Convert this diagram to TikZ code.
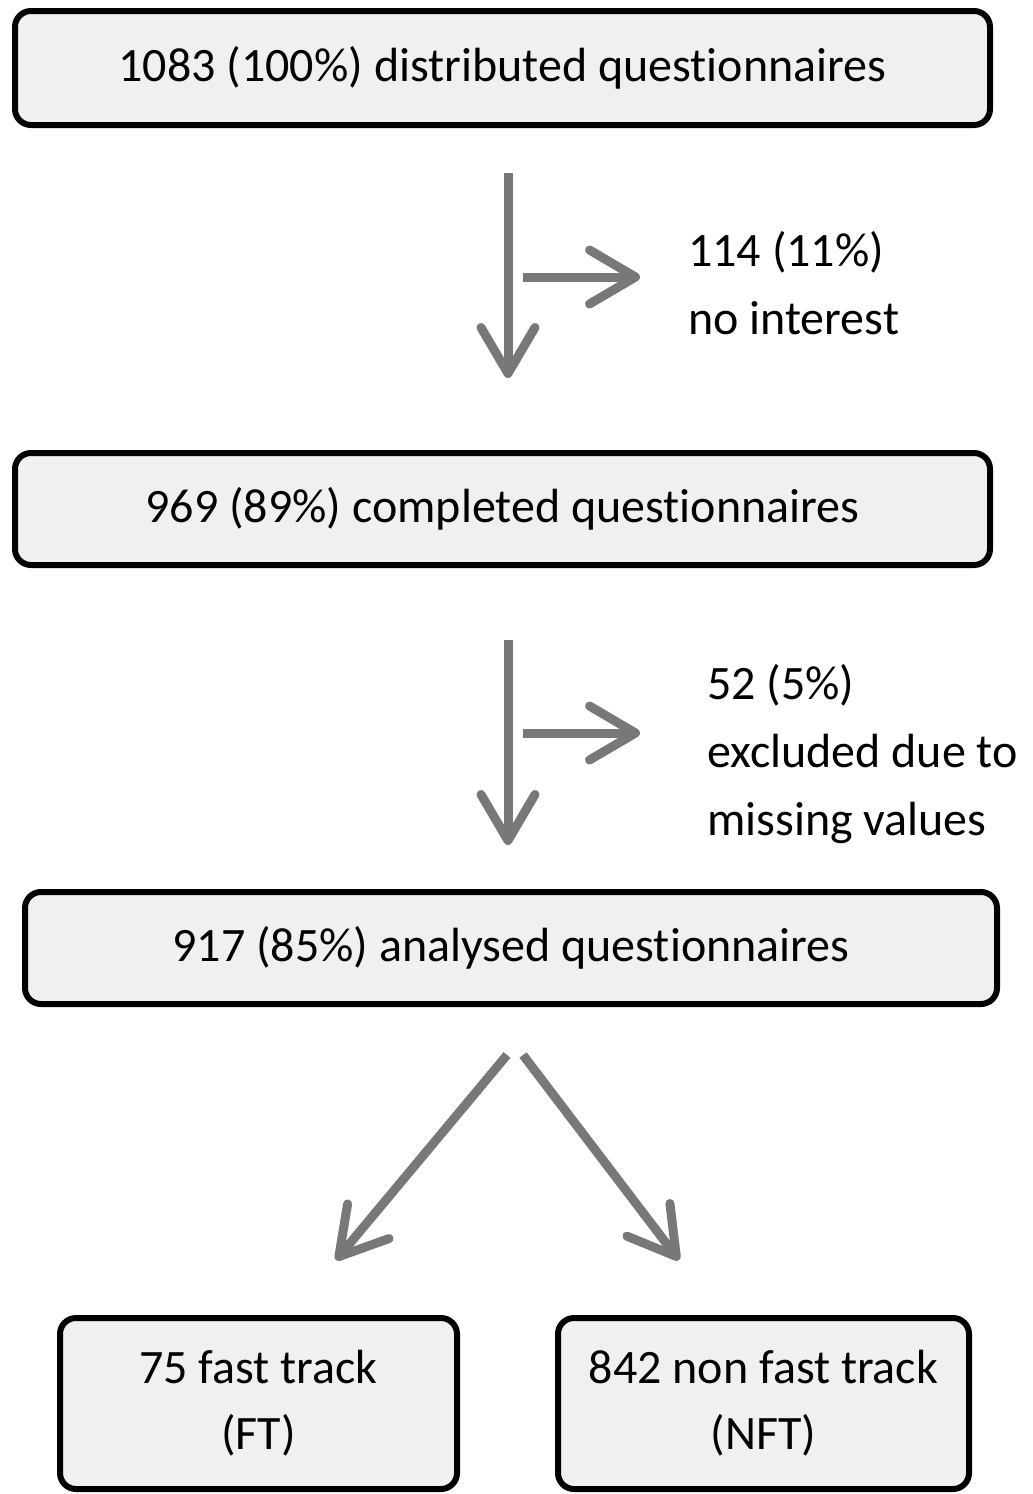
\documentclass[tikz,border=0pt]{standalone}
\usepackage{fontspec}
\setmainfont{Carlito}[Ligatures=NoCommon]
\usetikzlibrary{arrows.meta}
\definecolor{boxfill}{HTML}{F0F0F0}
\definecolor{flowgray}{HTML}{787878}
\tikzset{
  qbox/.style={draw=black, line width=6pt, rounded corners=16pt, fill=boxfill,
    inner sep=0pt, align=center, font=\fontsize{48}{66}\selectfont},
  flow/.style={draw=flowgray, line width=9pt,
    -{Straight Barb[round, length=46pt, width=54pt]}},
  note/.style={anchor=west, align=left, inner sep=0pt, font=\fontsize{48}{68}\selectfont},
}
\begin{document}
\begin{tikzpicture}[x=1pt, y=-1pt]
  \useasboundingbox (0,0) rectangle (1033,1494);
  % caixas principais
  \node[qbox, minimum width=975pt, minimum height=114pt] (dist) at (502.5,68) {1083 (100\%) distributed questionnaires};
  \node[qbox, minimum width=975pt, minimum height=112pt] (comp) at (502.5,509) {969 (89\%) completed questionnaires};
  \node[qbox, minimum width=972pt, minimum height=112pt] (anal) at (511,948) {917 (85\%) analysed questionnaires};
  \node[qbox, minimum width=397pt, minimum height=171pt] (ft) at (258.5,1403.5) {75 fast track\\(FT)};
  \node[qbox, minimum width=411pt, minimum height=171pt] (nft) at (763.5,1403.5) {842 non fast track\\(NFT)};
  % textos laterais
  \node[note] (nointer) at (688,283) {114 (11\%)\\no interest};
  \node[note] (missing) at (707,754) {52 (5\%)\\excluded due to\\missing values};
  % pontos das setas
  \coordinate (d1) at (508,173);
  \coordinate (d2) at (508,378);
  \coordinate (h1) at (523,277);
  \coordinate (h2) at (640,277);
  \coordinate (c1) at (508,640);
  \coordinate (c2) at (508,845);
  \coordinate (k1) at (523,733);
  \coordinate (k2) at (640,733);
  \coordinate (sl) at (507,1055);
  \coordinate (sr) at (523,1055);
  \coordinate (el) at (336,1260);
  \coordinate (er) at (679,1260);
  \draw[flow] (d1) -- (d2);
  \draw[flow] (h1) -- (h2);
  \draw[flow] (c1) -- (c2);
  \draw[flow] (k1) -- (k2);
  \draw[flow] (sl) -- (el);
  \draw[flow] (sr) -- (er);
\end{tikzpicture}
\end{document}
